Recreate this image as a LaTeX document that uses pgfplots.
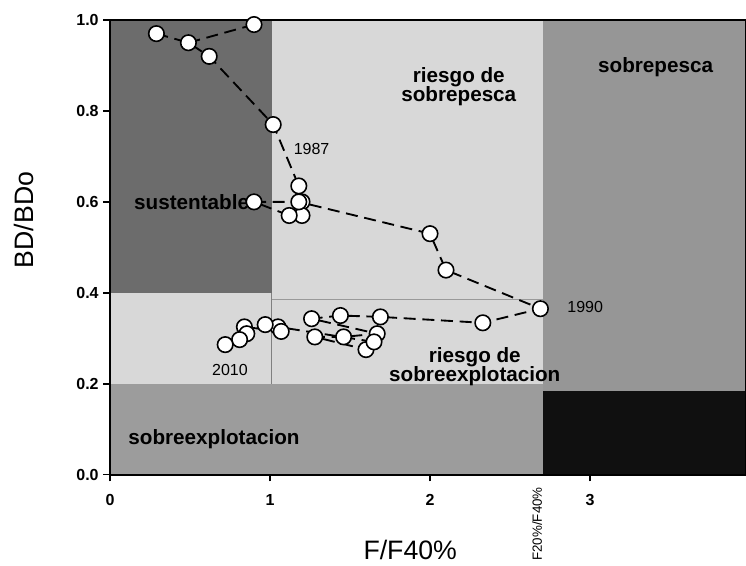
\documentclass[border=0pt]{standalone}
\usepackage{pgfplots}
\pgfplotsset{compat=1.18}
\usepackage{fontspec}
\setmainfont{Liberation Sans}
\definecolor{cSus}{RGB}{108,108,108}
\definecolor{cLight}{RGB}{216,216,216}
\definecolor{cSob}{RGB}{150,150,150}
\definecolor{cExp}{RGB}{156,156,156}
\definecolor{cBlk}{RGB}{16,16,16}
\begin{document}
\begin{tikzpicture}
\begin{axis}[name=ax, scale only axis, width=477pt, height=341pt,
  xmin=0, xmax=3.975, ymin=0, ymax=1,
  axis on top, clip=false,
  axis line style={line width=1.4pt},
  xtick={0,1,2,3}, ytick={0,0.2,0.4,0.6,0.8,1.0},
  xtick pos=bottom, ytick pos=left, tick align=outside,
  major tick length=5pt, tick style={line width=1.2pt, black},
  /pgf/number format/assume math mode=true,
  yticklabel style={/pgf/number format/.cd, fixed, fixed zerofill, precision=1},
  ticklabel style={font=\fontsize{12}{14}\selectfont\bfseries},
  xticklabel style={yshift=-6pt},
  xlabel={F/F40\%}, ylabel={BD/BDo},
  label style={font=\fontsize{20}{24}\selectfont},
  xlabel style={at={(axis description cs:0.472,-0.165)}, anchor=center},
  ylabel style={at={(axis description cs:-0.135,0.56)}, anchor=center},
]
% background regions
\addplot[draw=none, fill=cLight] coordinates {(0,0.2) (2.706,0.2) (2.706,1) (0,1)} -- cycle;
\addplot[draw=none, fill=cSus] coordinates {(0,0.4) (1.01,0.4) (1.01,1) (0,1)} -- cycle;
\addplot[draw=none, fill=cSob] coordinates {(2.706,0.185) (3.975,0.185) (3.975,1) (2.706,1)} -- cycle;
\addplot[draw=none, fill=cExp] coordinates {(0,0) (2.706,0) (2.706,0.2) (0,0.2)} -- cycle;
\addplot[draw=none, fill=cBlk] coordinates {(2.706,0) (3.975,0) (3.975,0.185) (2.706,0.185)} -- cycle;
\addplot[gray, line width=0.6pt] coordinates {(1.01,0.2) (1.01,0.4)};
\addplot[gray!80, line width=0.6pt] coordinates {(1.01,0.385) (2.706,0.385)};
% trajectory
\addplot[black, line width=1.4pt, dash pattern=on 9pt off 5pt] coordinates {(0.49,0.95) (0.90,0.99)};
\addplot[black, line width=1.4pt, dash pattern=on 9pt off 5pt,
  mark=*, mark size=5.8pt, mark options={solid, fill=white, draw=black, line width=1.2pt}]
  coordinates {
  (0.29,0.97) (0.49,0.95) (0.62,0.92) (1.02,0.77) (1.18,0.635) (1.20,0.60)
  (1.20,0.57) (1.12,0.57) (0.90,0.60) (1.18,0.60) (2.00,0.53) (2.10,0.45) (2.69,0.365)
  (2.33,0.334) (1.69,0.347) (1.44,0.35) (1.26,0.343) (1.67,0.31) (1.46,0.303) (1.28,0.303)
  (1.60,0.275) (1.65,0.292) (1.05,0.325) (0.97,0.33) (1.07,0.315) (0.84,0.325) (0.855,0.31)
  (0.81,0.297) (0.72,0.286)
  };
\addplot[only marks, mark=*, mark size=5.8pt, mark options={solid, fill=white, draw=black, line width=1.2pt}] coordinates {(0.90,0.99)};
% labels
\node[font=\fontsize{15.5}{17}\selectfont\bfseries] at (axis cs:0.51,0.6) {sustentable};
\node[font=\fontsize{15.5}{17}\selectfont\bfseries, align=center] at (axis cs:2.18,0.853) {riesgo de\\[-3pt]sobrepesca};
\node[font=\fontsize{15.5}{17}\selectfont\bfseries] at (axis cs:3.41,0.897) {sobrepesca};
\node[font=\fontsize{15.5}{17}\selectfont\bfseries, align=center] at (axis cs:2.28,0.237) {riesgo de\\[-3pt]sobreexplotacion};
\node[font=\fontsize{15.5}{17}\selectfont\bfseries] at (axis cs:0.65,0.077) {sobreexplotacion};
\node[font=\fontsize{12}{14}\selectfont] at (axis cs:1.26,0.717) {1987};
\node[font=\fontsize{12}{14}\selectfont] at (axis cs:2.97,0.369) {1990};
\node[font=\fontsize{12}{14}\selectfont] at (axis cs:0.75,0.23) {2010};
\node[rotate=90, font=\fontsize{10}{12}\selectfont] at ([yshift=-37pt]axis cs:2.67,0) {F20\%/F40\%};
\end{axis}
\pgfresetboundingbox
\path[use as bounding box] ([xshift=-82.5pt,yshift=-68.25pt]ax.south west) rectangle ([yshift=15pt]ax.north east);
\end{tikzpicture}
\end{document}
